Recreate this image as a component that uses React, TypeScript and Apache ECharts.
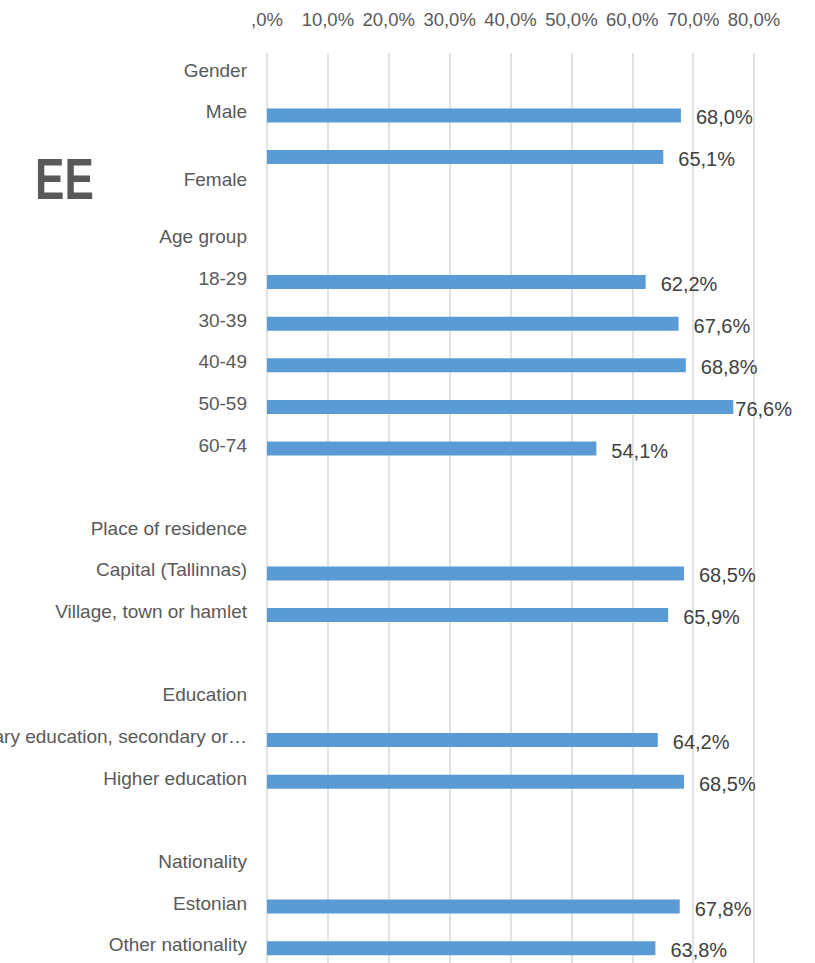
import React, { useEffect, useRef } from "react";
import * as echarts from "echarts";

const categories = [
  "Gender",
  "Male",
  "Female",
  " ",
  "Age group",
  "18-29",
  "30-39",
  "40-49",
  "50-59",
  "60-74",
  "  ",
  "Place of residence",
  "Capital (Tallinnas)",
  "Village, town or hamlet",
  "   ",
  "Education",
  "Primary education, secondary or…",
  "Higher education",
  "    ",
  "Nationality",
  "Estonian",
  "Other nationality",
];

const values: (number | null)[] = [
  null, 68.0, 65.1, null, null, 62.2, 67.6, 68.8, 76.6, 54.1, null, null,
  68.5, 65.9, null, null, 64.2, 68.5, null, null, 67.8, 63.8,
];

const xTicks = [0, 10, 20, 30, 40, 50, 60, 70, 80];

const FONT = "'Liberation Sans', Arial, sans-serif";

function fmtPct(v: number) {
  if (v === 0) return ",0%";
  return v.toFixed(1).replace(".", ",") + "%";
}

export default function App() {
  const ref = useRef<HTMLDivElement>(null);
  useEffect(() => {
    if (!ref.current) return;
    const chart = echarts.init(ref.current, undefined, { renderer: "svg" });
    const seriesData = values.map((v, i) => {
      if (v === null) return null;
      if (categories[i] === "50-59") {
        return { value: v, label: { distance: 2 } };
      }
      return v;
    });
    chart.setOption({
      animation: false,
      textStyle: { fontFamily: FONT },
      grid: {
        left: 267,
        right: 61,
        top: 53,
        height: 916,
        containLabel: false,
        outerBoundsMode: "none",
      },
      xAxis: {
        type: "value",
        position: "top",
        min: xTicks[0],
        max: xTicks[xTicks.length - 1],
        interval: 10,
        axisLine: { show: false },
        axisTick: { show: false },
        splitLine: { lineStyle: { color: "#D9D9D9", width: 1.5 } },
        axisLabel: {
          formatter: (v: number) => fmtPct(v),
          color: "#595959",
          fontSize: 18.5,
          fontFamily: FONT,
          margin: 24,
        },
      },
      yAxis: {
        type: "category",
        inverse: true,
        data: categories,
        axisLine: { show: false },
        axisTick: { show: false },
        splitLine: { show: false },
        axisLabel: {
          color: "#595959",
          fontSize: 19,
          fontFamily: FONT,
          margin: 20,
          interval: 0,
          formatter: (v: string) => (v === "Female" ? `{f|${v}}` : `{n|${v}}`),
          rich: {
            n: {
              color: "#595959",
              fontSize: 19,
              fontFamily: FONT,
              padding: [0, 0, 7, 0],
            },
            f: {
              color: "#595959",
              fontSize: 19,
              fontFamily: FONT,
              padding: [44, 0, 0, 0],
            },
          },
        },
      },
      series: [
        {
          type: "bar",
          data: seriesData,
          barWidth: 14,
          itemStyle: { color: "#5B9BD5" },
          label: {
            show: true,
            position: "right",
            distance: 15,
            color: "#404040",
            fontSize: 20,
            fontFamily: FONT,
            formatter: (p: any) => fmtPct(p.value),
            offset: [0, 2],
          },
        },
      ],
      graphic: [
        {
          type: "text",
          x: 35,
          y: 179,
          scaleX: 0.76,
          style: {
            text: "EE",
            fontSize: 58,
            fontWeight: "bold",
            fontFamily: FONT,
            fill: "#595959",
            verticalAlign: "middle",
            align: "left",
          },
        },
      ],
    });
    return () => chart.dispose();
  }, []);
  return (
    <div
      ref={ref}
      style={{ position: "absolute", left: 0, top: 0, width: 815, height: 963 }}
    />
  );
}
